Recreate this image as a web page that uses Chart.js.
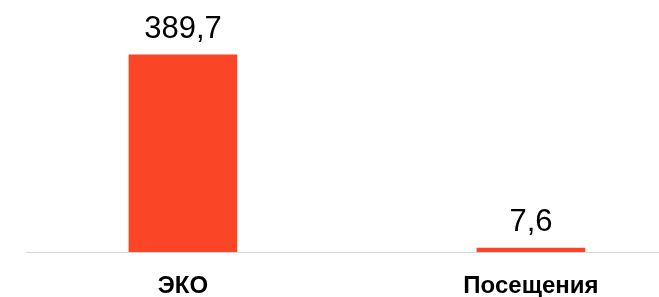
<!DOCTYPE html>
<html>
<head>
<meta charset="utf-8">
<script src="https://cdn.jsdelivr.net/npm/chart.js@4/dist/chart.umd.min.js"></script>
<style>
  html, body { margin: 0; padding: 0; background: #fff; }
  #wrap { width: 659px; height: 297px; }
</style>
</head>
<body>
<div id="wrap"><canvas id="chart"></canvas></div>
<script>
// данные
const categories = ["ЭКО", "Посещения"];
const positions = [0, 1];
const values = [389.7, 7.6];

// подписи значений над столбиками
const valueLabels = {
  id: "valueLabels",
  afterDatasetsDraw(chart) {
    const ctx = chart.ctx;
    const meta = chart.getDatasetMeta(0);
    ctx.save();
    ctx.font = "31px 'Liberation Sans', Arial, sans-serif";
    ctx.fillStyle = "#000";
    ctx.textAlign = "center";
    ctx.textBaseline = "alphabetic";
    meta.data.forEach((bar, i) => {
      ctx.fillText(values[i].toFixed(1).replace(".", ","), bar.x, bar.y - 17);
    });
    ctx.restore();
  }
};

let node = document.querySelector("#chart");
new Chart(node, {
  type: "bar",
  data: {
    datasets: [{
      data: positions.map((p, i) => ({ x: p, y: values[i] })),
      backgroundColor: "#FB4527",
      borderWidth: 0,
      barThickness: 108
    }]
  },
  options: {
    responsive: true,
    maintainAspectRatio: false,
    animation: false,
    layout: { padding: { left: 26, right: 0, top: 0, bottom: 0 } },
    plugins: { legend: { display: false }, tooltip: { enabled: false } },
    scales: {
      x: {
        type: "linear",
        offset: false,
        min: -0.451,
        max: 1.368,
        afterBuildTicks: (s) => { s.ticks = positions.map(v => ({ value: v })); },
        afterFit: (s) => { s.height = 45; },
        grid: { display: false, drawTicks: false, offset: false },
        border: { display: true, color: "#d3d6dc", width: 1 },
        ticks: {
          padding: 20,
          color: "#000",
          maxRotation: 0,
          font: { family: "'Liberation Sans', Arial, sans-serif", size: 24, weight: "bold" },
          callback: (v) => categories[v] ?? ""
        }
      },
      y: {
        display: false,
        min: 0,
        max: 498
      }
    }
  },
  plugins: [valueLabels]
});
</script>
</body>
</html>
